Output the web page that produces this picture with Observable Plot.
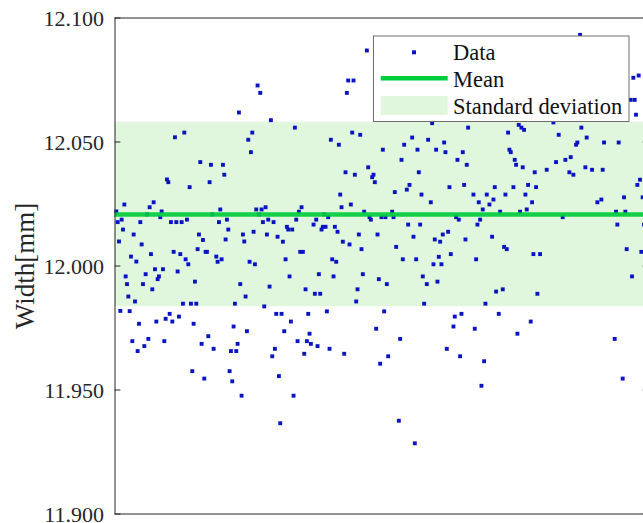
<!DOCTYPE html>
<html><head><meta charset="utf-8">
<script src="https://cdn.jsdelivr.net/npm/d3@7"></script>
<script src="https://cdn.jsdelivr.net/npm/@observablehq/plot@0.6"></script>
<style>
html,body{margin:0;padding:0;background:#fff;overflow:hidden;}
#wrap{position:relative;width:650px;height:523px;overflow:hidden;}
#wrap svg.plotsvg{display:block;max-width:none;}
#legend{position:absolute;left:0;top:0;pointer-events:none;}
</style></head><body><div id="wrap"></div>
<script>
// sample number of each measurement
const samples = [1,2,3,4,5,6,7,8,9,10,11,12,13,14,15,16,17,18,19,20,21,22,23,24,25,26,27,28,29,30,
31,32,33,34,35,36,37,38,39,40,41,42,43,44,45,46,47,48,49,50,51,52,53,54,55,56,57,58,59,60,
61,62,63,64,65,66,67,68,69,70,71,72,73,74,76,77,78,79,80,81,82,83,84,85,86,87,88,89,90,91,92,93,94,95,96,97,98,99,100,
101,102,103,104,105,106,107,108,109,110,111,112,113,114,115,116,117,118,119,120,121,122,123,124,125,126,127,128,129,130,
131,132,133,134,135,136,137,138,139,140,141,142,143,144,145,146,147,149,150,151,152,153,154,155,156,157,158,159,160,
161,162,163,164,165,166,167,168,169,170,171,172,173,174,175,176,177,178,179,180,181,182,183,184,185,186,187,189,190,
191,192,193,194,195,196,197,198,199,200,201,202,203,204,205,208,209,210,211,213,214,215,216,217,219,220,221,223,224,225,
226,227,228,229,230,231,232,234,235,237,238,239,240,241,242,243,244,245,246,247,248,249,250,251,252,254,255,256,257,258,
259,260,261,262,263,264,265,269,270,271,272,273,274,275,276,277,278,279,281,283,284,285,286,288,289,291,292,293,294,295,
296,297,299,300,301,302,303,304,305,306,307,308,309,310,312,313,314,315,316,317,319,324,329,331,333,336,338,341,342,344,
346,347,349,350,353,354,358,362,365,366,367,375,376,377,378,381,382,383,384,387,388,389,390,391,392,393,394,395,396,397];

// measured width [mm]
const widths = [12.0220,12.0177,12.0099,11.9819,12.0187,12.0147,12.0248,11.9958,11.9927,11.9877,11.9818,12.0038,11.9697,12.0127,11.9857,12.0018,11.9657,11.9767,12.0177,12.0087,
11.9927,11.9677,11.9967,12.0208,11.9706,12.0237,12.0048,11.9906,12.0257,11.9987,11.9776,11.9947,11.9958,12.0197,12.0220,11.9987,11.9697,11.9787,12.0349,12.0338,
11.9807,12.0177,11.9776,12.0057,12.0519,12.0177,11.9978,11.9796,12.0048,12.0177,11.9848,12.0538,12.0027,12.0187,12.0007,12.0318,11.9848,11.9576,11.9767,11.9937,
11.9848,12.0068,12.0127,12.0419,11.9686,12.0105,11.9546,12.0057,12.0057,11.9717,12.0338,12.0408,12.0208,11.9666,12.0038,12.0017,12.0177,12.0228,12.0027,12.0408,
12.0368,12.0107,12.0187,12.0147,11.9576,11.9657,11.9535,11.9756,11.9848,11.9657,11.9686,12.0619,11.9927,11.9477,12.0127,12.0099,11.9877,11.9737,12.0509,
12.0017,12.0459,12.0538,12.0138,12.0007,12.0228,12.0728,12.0208,12.0698,12.0228,12.0177,11.9837,12.0237,12.0127,12.0187,11.9917,12.0588,11.9636,12.0177,11.9666,
11.9807,12.0118,11.9556,11.9366,11.9807,12.0098,11.9737,12.0027,12.0158,12.0147,11.9958,11.9776,12.0147,11.9477,12.0558,12.0187,11.9697,12.0219,12.0057,12.0237,
12.0057,11.9646,11.9906,11.9697,11.9807,11.9727,11.9686,12.0167,11.9888,12.0187,11.9677,11.9967,11.9888,12.0147,12.0158,12.0208,12.0158,11.9817,12.0197,
11.9666,12.0509,12.0027,11.9958,12.0158,12.0017,12.0138,12.0489,12.0288,12.0237,12.0098,11.9646,12.0378,12.0698,12.0748,12.0087,12.0248,12.0538,12.0748,12.0368,
11.9857,11.9906,12.0127,12.0529,12.0068,11.9967,12.0219,12.0869,12.0398,
12.0197,12.0187,12.0358,12.0368,12.0338,11.9747,12.0127,11.9947,11.9606,12.0197,12.0469,11.9817,12.0197,11.9927,11.9636,12.0219,12.0197,12.0298,12.0077,11.9376,
11.9706,12.0428,12.0027,12.0489,12.0308,12.0167,12.0327,12.0518,12.0118,11.9285,
12.0027,12.0469,12.0378,12.0167,12.0288,11.9958,11.9848,11.9927,12.0509,12.0257,12.0576,12.0007,12.0107,12.0469,11.9937,12.0037,12.0098,12.0007,12.0127,12.0498,
12.0459,11.9666,12.0138,12.0318,12.0048,11.9756,11.9796,12.0197,12.0428,12.0187,
11.9636,11.9807,12.0459,12.0327,12.0107,12.0408,12.0558,12.0288,11.9747,12.0027,12.0167,12.0257,12.0187,11.9517,12.0228,11.9616,11.9848,12.0288,12.0248,12.0118,
12.0268,12.0318,11.9897,11.9807,12.0219,11.9906,12.0077,12.0288,12.0068,12.0538,
12.0469,12.0459,12.0318,12.0428,12.0408,11.9727,12.0569,12.0219,12.0558,12.0398,12.0549,12.0288,12.0228,12.0327,11.9776,12.0257,12.0048,12.0378,12.0318,11.9888,
12.0048,12.0388,12.0579,12.0419,12.0529,12.0197,12.0428,12.0378,12.0439,12.0368,
12.0489,12.0498,12.0932,12.0558,12.0398,12.0518,12.0388,12.0257,12.0268,12.0388,12.0498,11.9706,12.0219,12.0167,12.0498,11.9546,12.0277,12.0219,12.0068,12.0670,
11.9958,12.0759,12.0670,12.0610,12.0327,12.0768,12.0348,12.0057,12.0277,12.0167];

const meanWidth = 12.0208;
const stdWidth = 0.0372;
const yTicks = [11.9, 11.95, 12.0, 12.05, 12.1];
const seriesNames = ["Data", "Mean", "Standard deviation"];
const yLabel = "Width[mm]";

const data = samples.map((s, i) => ({sample: s, width: widths[i]}));
const band = [{lo: meanWidth - stdWidth, hi: meanWidth + stdWidth}];

const blue = "#0a14c4", green = "#00cd3c", bandFill = "#e0f7de", ink = "#262626";
const tickL = {draw(c, l) { c.moveTo(0, 0); c.lineTo(l, 0); }};
const tickR = {draw(c, l) { c.moveTo(0, 0); c.lineTo(-l, 0); }};

const chart = Plot.plot({
  width: 650, height: 523,
  marginLeft: 114.5, marginRight: 2.5, marginTop: 17.5, marginBottom: 9.5,
  className: "plotsvg",
  style: {fontFamily: "'Liberation Serif', serif", fontSize: "22px", color: ink, background: "transparent", overflow: "visible", maxWidth: "none"},
  x: {domain: [0, 400], axis: null},
  y: {domain: [11.9, 12.1], axis: null, label: null},
  marks: [
    Plot.rect(band, {y1: "lo", y2: "hi", fill: bandFill}),
    Plot.dot(data, {x: "sample", y: "width", symbol: "square", r: 2.2, fill: blue, stroke: null}),
    Plot.ruleY([meanWidth], {stroke: green, strokeWidth: 4.5, strokeOpacity: 0.92}),
    Plot.frame({stroke: ink, strokeWidth: 1}),
    Plot.vector(yTicks, {y: d => d, frameAnchor: "left", length: 5, shape: tickL, anchor: "start", stroke: ink, strokeWidth: 1}),
    Plot.vector(yTicks, {y: d => d, frameAnchor: "right", length: 5, shape: tickR, anchor: "start", stroke: ink, strokeWidth: 1}),
    Plot.axisY(yTicks, {anchor: "left", tickSize: 0, tickPadding: 11, label: null, tickFormat: d3.format(".3f"), fontSize: 22, fill: ink, dy: 1}),
    Plot.text([yLabel], {text: d => d, frameAnchor: "left", textAnchor: "middle", lineAnchor: "middle", rotate: -90, dx: -89.5, fontSize: 27, fill: ink})
  ]
});
document.getElementById("wrap").appendChild(chart);

// legend (inside the axes, upper right, as in the reference)
const lg = d3.select("#wrap").append("svg").attr("id", "legend").attr("width", 650).attr("height", 523)
  .style("font-family", "'Liberation Serif', serif").style("font-size", "22.5px");
lg.append("rect").attr("x", 373.5).attr("y", 36).attr("width", 255.5).attr("height", 85.5)
  .attr("fill", "#fff").attr("stroke", "#6e6e6e").attr("stroke-width", 1);
lg.append("rect").attr("x", 412).attr("y", 50.3).attr("width", 4).attr("height", 4).attr("fill", blue);
lg.append("line").attr("x1", 380.7).attr("x2", 447.7).attr("y1", 78.3).attr("y2", 78.3)
  .attr("stroke", green).attr("stroke-width", 4.5);
lg.append("rect").attr("x", 380.7).attr("y", 96).attr("width", 67).attr("height", 19).attr("fill", bandFill);
const baselines = [60, 87, 113.5];
seriesNames.forEach((name, i) => {
  lg.append("text").attr("x", 453).attr("y", baselines[i]).attr("fill", "#111").text(name);
});
</script>
</body></html>
